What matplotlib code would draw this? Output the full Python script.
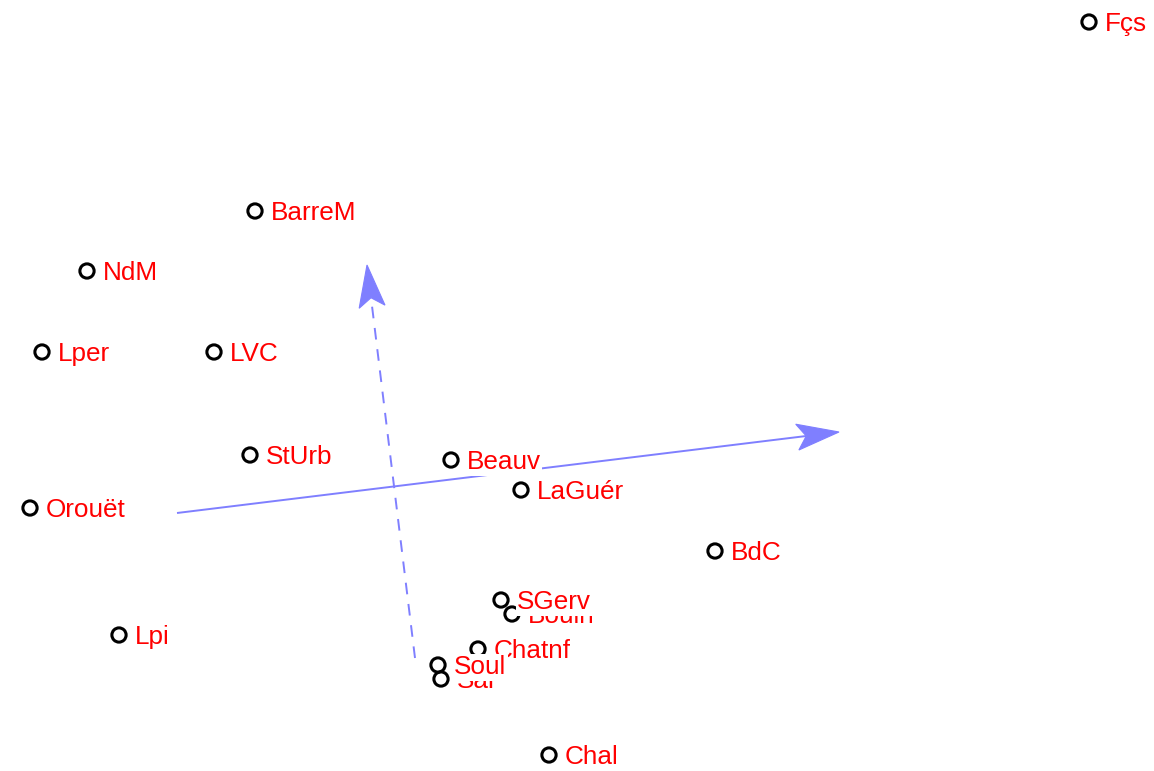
import numpy as np
import matplotlib
matplotlib.use("Agg")
import matplotlib.pyplot as plt
from matplotlib.patches import Polygon

# Site scores (screen-like coordinates: y grows downward)
labels = ["Fçs", "BarreM", "NdM", "Lper", "LVC", "StUrb", "Beauv", "LaGuér",
          "Orouët", "BdC", "Bouln", "SGerv", "Lpi", "Chatnf", "Sar", "Soul", "Chal"]
xs = [1089, 255, 87, 42, 214, 250, 451, 521, 30, 715, 512, 501, 119, 478, 441, 438, 549]
ys = [22, 211, 271, 352, 352, 455, 460, 490, 508, 551, 614, 600, 635, 649, 679, 665, 755]

# Biplot arrows (start -> end)
arrow_start_x = [177, 415]
arrow_start_y = [513, 658]
arrow_end_x = [839, 367]
arrow_end_y = [432, 265]
arrow_styles = ["-", (0, (6, 5))]

W, H = 1154, 771
fig = plt.figure(figsize=(W / 100, H / 100), dpi=100)
ax = fig.add_axes([0, 0, 1, 1])
ax.set_xlim(0, W)
ax.set_ylim(H, 0)
ax.axis("off")

acol = "#7f7fff"
head_len, head_hw, notch = 42, 13, 9
for x0, y0, x1, y1, ls in zip(arrow_start_x, arrow_start_y, arrow_end_x, arrow_end_y, arrow_styles):
    v = np.array([x1 - x0, y1 - y0], float)
    L = np.hypot(*v)
    u = v / L
    n = np.array([-u[1], u[0]])
    tip = np.array([x1, y1], float)
    back = tip - u * head_len
    nb = tip - u * (head_len - notch)
    ax.plot([x0, nb[0]], [y0, nb[1]], color=acol, lw=1.4, linestyle=ls,
            solid_capstyle="butt", dash_capstyle="butt", zorder=1)
    poly = Polygon([tip, back + n * head_hw, nb, back - n * head_hw], closed=True,
                   facecolor=acol, edgecolor=acol, lw=0.8, zorder=1)
    ax.add_patch(poly)

ax.scatter(xs, ys, s=105, facecolors="none", edgecolors="black", linewidths=2.2, zorder=2)
for i, (x, y, t) in enumerate(zip(xs, ys, labels)):
    ax.annotate(t, (x, y), xytext=(11.5, -6.7), textcoords="offset points",
                ha="left", va="baseline", color="#ff0000", fontsize=18.8,
                family=["Liberation Sans", "DejaVu Sans"], zorder=3 + i * 0.01,
                bbox=dict(boxstyle="square,pad=0.05", facecolor="white", edgecolor="none"))

fig.savefig("out.png", dpi=100)
